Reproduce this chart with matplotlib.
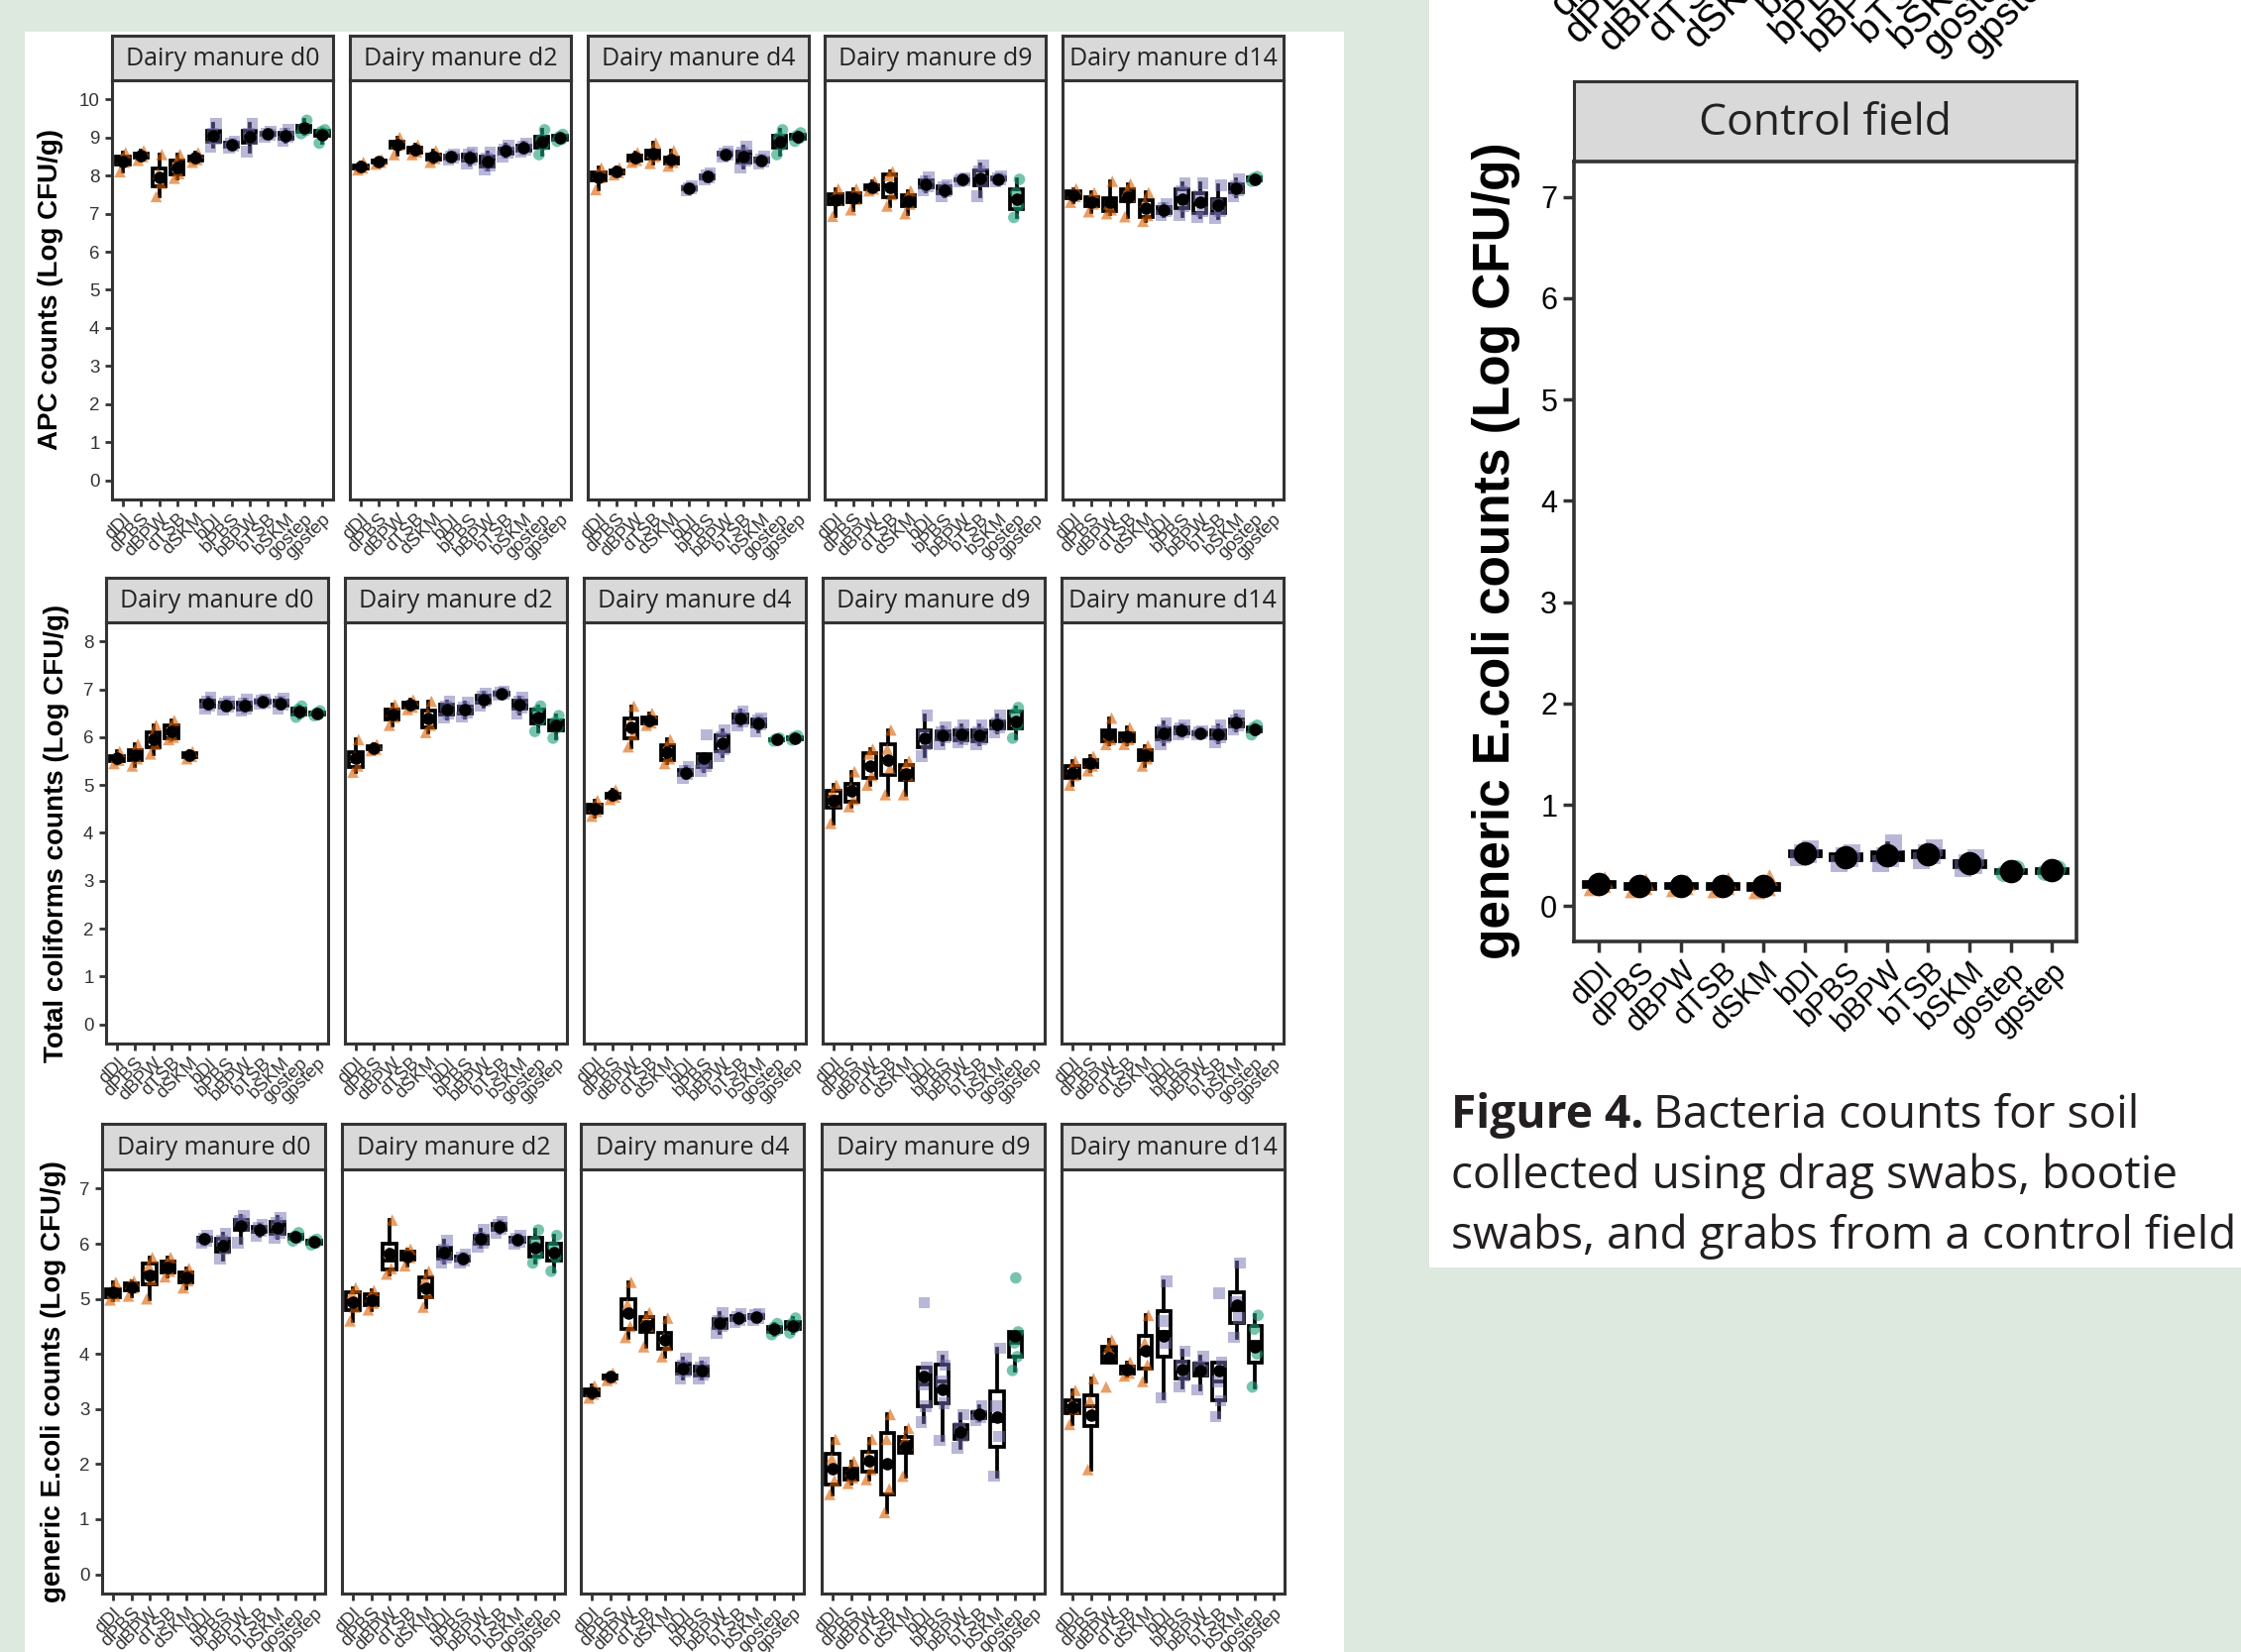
import numpy as np
import matplotlib
matplotlib.use("Agg")
import matplotlib.pyplot as plt
from matplotlib.patches import Rectangle

# ---------------------------------------------------------------- data
categories = ["dDI", "dPBS", "dBPW", "dTSB", "dSKM", "bDI", "bPBS",
              "bBPW", "bTSB", "bSKM", "gostep", "gpstep"]
days = ["d0", "d2", "d4", "d9", "d14"]

# replicate log counts per sampling method (None = not sampled)
apc_d0 = [[8.10, 8.35, 8.45, 8.60], [8.40, 8.50, 8.55, 8.65], [7.45, 7.80, 8.05, 8.55],
          [7.93, 8.05, 8.35, 8.55], [8.35, 8.42, 8.47, 8.60], [8.75, 8.95, 9.10, 9.35],
          [8.72, 8.78, 8.85, 8.90], [8.62, 8.95, 9.10, 9.35], [9.02, 9.07, 9.10, 9.15],
          [8.90, 9.00, 9.10, 9.20], [9.10, 9.18, 9.25, 9.45], [8.85, 9.10, 9.15, 9.20]]
apc_d2 = [[8.15, 8.20, 8.25, 8.35], [8.30, 8.35, 8.38, 8.42], [8.55, 8.80, 8.85, 9.00],
          [8.55, 8.62, 8.70, 8.80], [8.35, 8.45, 8.50, 8.65], [8.42, 8.47, 8.50, 8.55],
          [8.30, 8.42, 8.55, 8.60], [8.15, 8.25, 8.45, 8.60], [8.50, 8.60, 8.68, 8.80],
          [8.62, 8.68, 8.75, 8.85], [8.55, 8.80, 8.95, 9.20], [8.90, 8.95, 9.02, 9.08]]
apc_d4 = [[7.63, 7.95, 8.05, 8.20], [8.02, 8.08, 8.12, 8.20], [8.35, 8.40, 8.50, 8.60],
          [8.32, 8.50, 8.60, 8.85], [8.25, 8.35, 8.42, 8.65], [7.62, 7.65, 7.68, 7.72],
          [7.90, 7.95, 8.00, 8.05], [8.50, 8.55, 8.58, 8.62], [8.20, 8.40, 8.60, 8.75],
          [8.32, 8.37, 8.42, 8.50], [8.55, 8.80, 9.00, 9.20], [8.90, 8.98, 9.05, 9.12]]
apc_d9 = [[6.93, 7.35, 7.45, 7.65], [7.10, 7.38, 7.48, 7.65], [7.60, 7.65, 7.70, 7.85],
          [7.20, 7.50, 8.00, 8.10], [7.00, 7.25, 7.45, 7.60], [7.60, 7.72, 7.85, 7.95],
          [7.45, 7.58, 7.70, 7.75], [7.85, 7.88, 7.90, 7.93], [7.45, 7.85, 8.10, 8.28],
          [7.85, 7.90, 7.93, 7.97], [6.90, 7.20, 7.55, 7.90], None]
apc_d14 = [[7.30, 7.45, 7.55, 7.65], [7.05, 7.25, 7.40, 7.55], [7.00, 7.10, 7.25, 7.85],
           [6.92, 7.45, 7.60, 7.78], [6.80, 6.95, 7.30, 7.55], [6.95, 7.05, 7.15, 7.25],
           [6.95, 7.20, 7.60, 7.80], [6.90, 7.05, 7.45, 7.80], [6.88, 7.05, 7.25, 7.75],
           [7.45, 7.60, 7.72, 7.90], [7.85, 7.88, 7.93, 7.97], None]

coli_d0 = [[5.45, 5.52, 5.58, 5.70], [5.40, 5.55, 5.70, 5.85], [5.65, 5.85, 6.05, 6.25],
           [5.95, 6.00, 6.20, 6.35], [5.55, 5.60, 5.65, 5.70], [6.60, 6.65, 6.75, 6.82],
           [6.58, 6.63, 6.70, 6.75], [6.55, 6.60, 6.70, 6.78], [6.70, 6.72, 6.76, 6.78],
           [6.60, 6.68, 6.75, 6.80], [6.42, 6.50, 6.58, 6.65], [6.45, 6.48, 6.50, 6.55]]
coli_d2 = [[5.27, 5.40, 5.60, 5.95], [5.72, 5.75, 5.80, 5.85], [6.25, 6.42, 6.55, 6.68],
           [6.58, 6.63, 6.70, 6.78], [6.10, 6.25, 6.50, 6.75], [6.40, 6.50, 6.65, 6.75],
           [6.42, 6.52, 6.62, 6.72], [6.65, 6.75, 6.85, 6.92], [6.88, 6.90, 6.93, 6.95],
           [6.50, 6.62, 6.75, 6.82], [6.12, 6.35, 6.55, 6.65], [5.98, 6.20, 6.32, 6.45]]
coli_d4 = [[4.35, 4.45, 4.55, 4.68], [4.70, 4.75, 4.80, 4.90], [5.80, 6.05, 6.30, 6.65],
           [6.25, 6.30, 6.38, 6.50], [5.45, 5.55, 5.80, 5.95], [5.15, 5.22, 5.30, 5.38],
           [5.30, 5.40, 5.50, 6.05], [5.60, 5.75, 6.00, 6.15], [6.25, 6.33, 6.45, 6.55],
           [6.12, 6.27, 6.35, 6.40], [5.92, 5.94, 5.96, 5.98], [5.94, 5.97, 6.00, 6.03]]
coli_d9 = [[4.20, 4.65, 4.85, 5.00], [4.55, 4.70, 4.95, 5.28], [5.00, 5.20, 5.65, 5.75],
           [4.80, 5.35, 5.75, 6.15], [4.80, 5.20, 5.40, 5.50], [5.60, 5.85, 6.05, 6.45],
           [5.85, 6.00, 6.10, 6.20], [5.90, 5.95, 6.10, 6.25], [5.85, 5.95, 6.10, 6.25],
           [6.10, 6.20, 6.30, 6.45], [5.98, 6.25, 6.50, 6.62], None]
coli_d14 = [[5.00, 5.20, 5.35, 5.50], [5.30, 5.40, 5.50, 5.60], [5.85, 5.95, 6.05, 6.40],
            [5.85, 5.95, 6.05, 6.20], [5.40, 5.55, 5.70, 5.82], [5.85, 6.00, 6.15, 6.30],
            [6.05, 6.10, 6.18, 6.25], [6.05, 6.07, 6.10, 6.12], [5.90, 6.00, 6.12, 6.25],
            [6.15, 6.25, 6.35, 6.45], [6.05, 6.15, 6.20, 6.25], None]

ecoli_d0 = [[4.98, 5.05, 5.12, 5.30], [5.05, 5.20, 5.28, 5.32], [5.00, 5.35, 5.60, 5.75],
            [5.40, 5.50, 5.65, 5.75], [5.20, 5.33, 5.45, 5.55], [6.02, 6.06, 6.10, 6.15],
            [5.72, 5.90, 6.05, 6.18], [6.02, 6.33, 6.42, 6.50], [6.15, 6.23, 6.30, 6.35],
            [6.10, 6.20, 6.38, 6.48], [6.05, 6.10, 6.14, 6.20], [5.98, 6.01, 6.05, 6.08]]
ecoli_d2 = [[4.60, 4.85, 5.10, 5.20], [4.80, 4.92, 5.05, 5.15], [5.45, 5.55, 5.85, 6.43],
            [5.60, 5.75, 5.85, 5.90], [4.85, 5.10, 5.35, 5.50], [5.65, 5.75, 5.90, 6.05],
            [5.65, 5.70, 5.76, 5.80], [5.95, 6.02, 6.12, 6.25], [6.20, 6.27, 6.35, 6.40],
            [6.00, 6.04, 6.10, 6.15], [5.65, 5.80, 6.05, 6.25], [5.50, 5.75, 5.95, 6.15]]
ecoli_d4 = [[3.20, 3.27, 3.33, 3.42], [3.52, 3.56, 3.60, 3.65], [4.30, 4.50, 4.90, 5.30],
            [4.13, 4.50, 4.65, 4.75], [3.95, 4.15, 4.30, 4.65], [3.55, 3.68, 3.80, 3.92],
            [3.55, 3.63, 3.75, 3.85], [4.38, 4.50, 4.60, 4.75], [4.58, 4.62, 4.68, 4.72],
            [4.62, 4.65, 4.70, 4.72], [4.35, 4.42, 4.48, 4.55], [4.38, 4.48, 4.55, 4.65]]
ecoli_d9 = [[1.45, 1.70, 2.10, 2.45], [1.65, 1.75, 1.88, 2.05], [1.72, 1.90, 2.15, 2.45],
            [1.12, 1.55, 2.45, 2.90], [1.78, 2.35, 2.45, 2.65], [2.76, 3.05, 3.45, 3.75, 4.93],
            [2.43, 3.10, 3.50, 3.80, 3.95], [2.30, 2.50, 2.65, 2.90], [2.80, 2.85, 2.90, 3.05],
            [1.78, 2.50, 3.05, 4.10], [3.70, 3.95, 4.20, 4.40, 5.38], None]
ecoli_d14 = [[2.72, 3.00, 3.10, 3.34], [1.90, 2.95, 3.15, 3.55], [3.40, 4.00, 4.10, 4.25],
             [3.60, 3.65, 3.75, 3.85], [3.50, 3.80, 4.20, 4.70], [3.20, 4.20, 4.60, 5.32],
             [3.40, 3.60, 3.80, 4.05], [3.35, 3.70, 3.78, 3.95], [2.86, 3.15, 3.50, 3.85, 5.10],
             [4.30, 4.65, 4.95, 5.65], [3.40, 4.00, 4.45, 4.70], None]

control_ecoli = [[0.18, 0.21, 0.23, 0.26], [0.16, 0.19, 0.21, 0.24], [0.17, 0.19, 0.21, 0.23],
                 [0.16, 0.19, 0.21, 0.25], [0.15, 0.18, 0.20, 0.28], [0.48, 0.51, 0.53, 0.56],
                 [0.42, 0.47, 0.50, 0.53], [0.42, 0.47, 0.50, 0.62], [0.45, 0.50, 0.53, 0.57],
                 [0.37, 0.40, 0.43, 0.48], [0.32, 0.34, 0.35, 0.37], [0.33, 0.34, 0.36, 0.37]]

# ---------------------------------------------------------------- style
W, H = 2261, 1667
BG = "#dde9df"
EDGE = "#333333"
TXT = "#333333"
GROUP_STYLE = {"d": ("^", "#D95F02", 0.6),
               "b": ("s", "#7570B3", 0.5),
               "g": ("o", "#1B9E77", 0.6)}
JITTER = np.array([-0.16, 0.10, -0.05, 0.15, 0.02])

SANS = ["Liberation Sans", "DejaVu Sans"]
STRIP_FONT = ["Open Sans", "DejaVu Sans"]

fig = plt.figure(figsize=(W / 100, H / 100), dpi=100)
fig.patch.set_facecolor(BG)
fig.patches.append(Rectangle((25 / W, 0), (1356 - 25) / W, 1 - 32 / H,
                             transform=fig.transFigure, facecolor="white",
                             edgecolor="none", zorder=-10))
fig.patches.append(Rectangle((1442 / W, 1 - 1279 / H), (W - 1442) / W, 1279 / H,
                             transform=fig.transFigure, facecolor="white",
                             edgecolor="none", zorder=-10))


def px_axes(left, top, width, height):
    return fig.add_axes([left / W, 1 - (top + height) / H, width / W, height / H])


def strip(left, top, width, height, label, size):
    sa = px_axes(left, top, width, height)
    sa.set_facecolor("#d9d9d9")
    sa.set_xticks([])
    sa.set_yticks([])
    for s in sa.spines.values():
        s.set_color(EDGE)
        s.set_linewidth(2.2)
    sa.text(0.5, 0.47, label, ha="center", va="center", fontsize=size,
            family=STRIP_FONT, color="#222222", transform=sa.transAxes)


def draw_groups(ax, groups, box_lw, mean_ms, pt_size):
    for i, vals in enumerate(groups):
        if vals is None:
            continue
        x = i + 1
        marker, color, alpha = GROUP_STYLE[categories[i][0]]
        ax.boxplot([vals], positions=[x], widths=0.72, showfliers=False,
                   showcaps=False, patch_artist=True, manage_ticks=False,
                   boxprops=dict(facecolor="white", edgecolor="black", linewidth=box_lw),
                   medianprops=dict(color="black", linewidth=box_lw),
                   whiskerprops=dict(color="black", linewidth=box_lw),
                   zorder=2)
        ax.scatter(x + JITTER[:len(vals)], vals, marker=marker, s=pt_size,
                   color=color, alpha=alpha, edgecolors="none", zorder=3)
        ax.plot([x], [np.mean(vals)], "o", color="black", ms=mean_ms, zorder=4)


def style_panel(ax, ylim, yticks, show_y, xlab_size, ytick_size, tick_len, tick_w, spine_w):
    ax.set_xlim(0.4, 12.6)
    ax.set_ylim(*ylim)
    for s in ax.spines.values():
        s.set_color(EDGE)
        s.set_linewidth(spine_w)
    ax.set_xticks(range(1, 13))
    ax.set_xticklabels(categories, rotation=45, ha="right", va="top",
                       rotation_mode="anchor", fontsize=xlab_size,
                       family=SANS, color=TXT)
    ax.tick_params(axis="x", length=tick_len, width=tick_w, color=EDGE, pad=3)
    if show_y:
        ax.set_yticks(yticks)
        ax.set_yticklabels([str(t) for t in yticks], fontsize=ytick_size,
                           family=SANS, color=TXT)
        ax.tick_params(axis="y", length=tick_len, width=tick_w, color=EDGE, pad=4)
    else:
        ax.set_yticks([])


# ---------------------------------------------------------------- faceted grid
rows = [
    dict(data=[apc_d0, apc_d2, apc_d4, apc_d9, apc_d14], strip_top=36, top=81, bottom=504,
         lefts=[113, 353, 593, 832, 1072], width=223, ylim=(-0.5, 10.5),
         yticks=list(range(0, 11)), ylabel="APC counts (Log CFU/g)", lab_x=51),
    dict(data=[coli_d0, coli_d2, coli_d4, coli_d9, coli_d14], strip_top=583, top=628,
         bottom=1053, lefts=[107, 348, 589, 830, 1071], width=224, ylim=(-0.4, 8.4),
         yticks=list(range(0, 9)), ylabel="Total coliforms counts (Log CFU/g)", lab_x=57),
    dict(data=[ecoli_d0, ecoli_d2, ecoli_d4, ecoli_d9, ecoli_d14], strip_top=1134, top=1180,
         bottom=1608, lefts=[103, 345, 586, 829, 1071], width=225, ylim=(-0.35, 7.35),
         yticks=list(range(0, 8)), ylabel="generic E.coli counts (Log CFU/g)", lab_x=54),
]

for row in rows:
    for j, (left, groups) in enumerate(zip(row["lefts"], row["data"])):
        strip(left, row["strip_top"], row["width"], row["top"] - row["strip_top"],
              "Dairy manure " + days[j], 18)
        ax = px_axes(left, row["top"], row["width"], row["bottom"] - row["top"])
        draw_groups(ax, groups, box_lw=2.7, mean_ms=8, pt_size=70)
        style_panel(ax, row["ylim"], row["yticks"], j == 0, xlab_size=13.5,
                    ytick_size=13.5, tick_len=5, tick_w=2.0, spine_w=2.2)
    fig.text(row["lab_x"] / W, 1 - (row["top"] + row["bottom"]) / 2 / H, row["ylabel"],
             rotation=90, ha="center", va="center", fontsize=20, fontweight="bold",
             family=SANS, color="black")

# ---------------------------------------------------------------- control field
cl, cw = 1588, 507
strip(cl, 82, cw, 163 - 82, "Control field", 32)
cax = px_axes(cl, 163, cw, 950 - 163)
draw_groups(cax, control_ecoli, box_lw=3.4, mean_ms=16, pt_size=150)
style_panel(cax, (-0.35, 7.35), list(range(0, 8)), True, xlab_size=22,
            ytick_size=22, tick_len=8, tick_w=2.5, spine_w=2.6)
for t in cax.get_xticklabels() + cax.get_yticklabels():
    t.set_color("black")
fig.text(1510 / W, 1 - 556 / H, "generic E.coli counts (Log CFU/g)", rotation=90,
         ha="center", va="center", fontsize=37, fontweight="bold", family=SANS,
         color="black")

# tick labels of the panel above, running off the top edge
above = px_axes(cl - 12, -70, cw, 10)
above.set_xlim(0.4, 12.6)
above.set_xticks(range(1, 13))
above.set_xticklabels(categories, rotation=45, ha="right", va="top",
                      rotation_mode="anchor", fontsize=28, family=SANS, color="black")
above.tick_params(axis="x", length=8, width=2.5, pad=3)
above.set_yticks([])
above.patch.set_visible(False)
for s in above.spines.values():
    s.set_visible(False)

# ---------------------------------------------------------------- caption
CAP_FONT = ["Open Sans", "DejaVu Sans"]
renderer = fig.canvas.get_renderer()
probe = fig.text(1464 / W, 1 - 1260 / H, "swabs, and grabs from a control field",
                 fontsize=30, family=CAP_FONT, color="#231f20", va="baseline")
wpx = probe.get_window_extent(renderer).width
cap_size = 30 * 793 / wpx
probe.set_fontsize(cap_size)

bold = fig.text(1464 / W, 1 - 1138 / H, "Figure 4.", fontsize=cap_size,
                family=CAP_FONT, fontweight="bold", color="#231f20", va="baseline")
bw = bold.get_window_extent(renderer).width
fig.text((1464 + bw + 0.22 * cap_size * 100 / 72) / W, 1 - 1138 / H,
         "Bacteria counts for soil", fontsize=cap_size, family=CAP_FONT,
         color="#231f20", va="baseline")
fig.text(1464 / W, 1 - 1199 / H, "collected using drag swabs, bootie",
         fontsize=cap_size, family=CAP_FONT, color="#231f20", va="baseline")

fig.savefig("out.png", dpi=100, facecolor=fig.get_facecolor())
